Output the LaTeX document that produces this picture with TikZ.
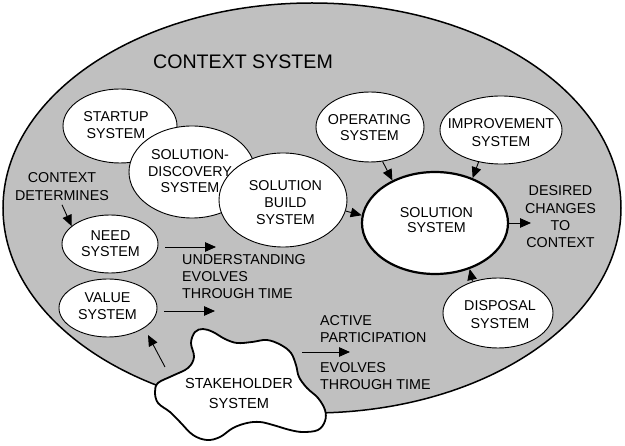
\documentclass[tikz,border=0pt]{standalone}
\usepackage{fontspec}
\setmainfont{Liberation Sans}
\usetikzlibrary{shapes.geometric,arrows.meta}
\definecolor{ctxgray}{RGB}{192,192,192}
\begin{document}
\begin{tikzpicture}[x=1pt,y=-1pt,
  ctxell/.style={ellipse,draw=black,line width=1.5pt,fill=ctxgray,inner sep=0pt},
  sysell/.style={ellipse,draw=black,line width=0.9pt,fill=white,inner sep=0pt},
  mainell/.style={ellipse,draw=black,line width=2.2pt,fill=white,inner sep=0pt},
  txt/.style={inner sep=0pt,align=center,font=\fontsize{14.3}{17}\selectfont},
  ltxt/.style={txt,align=left,anchor=west},
  arr/.style={-{Triangle[length=11pt,width=9.5pt]},line width=0.9pt},
  cloudline/.style={line width=1.8pt,draw=black,fill=white},
]
\useasboundingbox (0,0) rectangle (625,446);
% context
\node[ctxell,minimum width=618pt,minimum height=410pt] (ctx) at (312,208) {};
\node[inner sep=0pt,font=\fontsize{19.6}{22}\selectfont] (ctxT) at (243,61.5) {CONTEXT SYSTEM};
% systems
\node[sysell,minimum width=114pt,minimum height=74pt] (startup) at (120,126) {};
\node[txt] (startupT) at (116,125) {STARTUP\\SYSTEM};
\node[sysell,minimum width=126pt,minimum height=92pt] (disc) at (192,172) {};
\node[txt,font=\fontsize{14.3}{16.5}\selectfont] (discT) at (190,171.5) {SOLUTION-\\DISCOVERY\\SYSTEM};
\node[sysell,minimum width=128pt,minimum height=94pt] (build) at (283,200) {};
\node[txt] (buildT) at (285.5,202.5) {SOLUTION\\BUILD\\SYSTEM};
\node[sysell,minimum width=96pt,minimum height=58pt] (need) at (110,244) {};
\node[txt,font=\fontsize{14.3}{15.5}\selectfont] (needT) at (110.5,243.5) {NEED\\SYSTEM};
\node[sysell,minimum width=98pt,minimum height=58pt] (value) at (108,308) {};
\node[txt] (valueT) at (107.5,306) {VALUE\\SYSTEM};
\node[sysell,minimum width=108pt,minimum height=70pt] (oper) at (370,127) {};
\node[txt,font=\fontsize{14.3}{16}\selectfont] (operT) at (369.5,128) {OPERATING\\SYSTEM};
\node[sysell,minimum width=122pt,minimum height=68pt] (impr) at (501,130) {};
\node[txt,font=\fontsize{14.3}{18}\selectfont] (imprT) at (501,133) {IMPROVEMENT\\SYSTEM};
\node[mainell,minimum width=146pt,minimum height=102pt] (sol) at (435,223) {};
\node[txt,font=\fontsize{14.3}{15}\selectfont] (solT) at (436.5,220) {SOLUTION\\SYSTEM};
\node[sysell,minimum width=110pt,minimum height=70pt] (disp) at (498,313) {};
\node[txt,font=\fontsize{14.3}{18}\selectfont] (dispT) at (500,314.5) {DISPOSAL\\SYSTEM};
% stakeholder cloud
\draw[cloudline] plot[smooth cycle,tension=0.6] coordinates {
(155,392) (158,383) (172,376) (188,368) (194,357) (191,343) (195,332) (203,329)
(213,332) (225,339) (237,343) (252,342) (267,340) (281,345) (291,353) (296,365)
(299,377) (307,388) (318,398) (325,410) (325,421) (318,430) (303,432) (290,430)
(273,425) (260,422) (247,423) (233,428) (220,437) (207,440) (193,435) (180,422)
(170,412) (158,403)};
\node[txt,font=\fontsize{14.6}{20}\selectfont] (stake) at (239,393.5) {STAKEHOLDER\\SYSTEM};
% labels
\node[txt,font=\fontsize{14.3}{18}\selectfont] (cdet) at (62,186.5) {CONTEXT\\DETERMINES};
\node[ltxt] (und) at (182,276.7) {UNDERSTANDING\\EVOLVES\\THROUGH TIME};
\node[ltxt] (act) at (320,329) {ACTIVE\\PARTICIPATION};
\node[ltxt] (evo) at (320,376) {EVOLVES\\THROUGH TIME};
\node[txt,font=\fontsize{14.3}{17.3}\selectfont] (des) at (560.5,217) {DESIRED\\CHANGES\\TO\\CONTEXT};
% free ends
\coordinate (desin) at (531,223);
\coordinate (needout) at (216,247);
\coordinate (valout) at (215,311);
\coordinate (stkA) at (165,367);
\coordinate (stkB) at (148,335);
\coordinate (actA) at (302,352);
\coordinate (actB) at (350,352);
% connectors
\draw[arr] ([yshift=-4pt]cdet.south) -- (need.155);
\draw[arr] ([xshift=7pt,yshift=-3pt]need.east) -- (needout);
\draw[arr] ([xshift=7pt,yshift=-3pt]value.east) -- (valout);
\draw[arr] (stkA) -- (stkB);
\draw[arr] (actA) -- (actB);
\draw[arr] (oper.-70) -- (sol.135);
\draw[arr] (impr.-125) -- (sol.50);
\draw[arr] (build.-10) -- (sol.174);
\draw[arr] (sol.east) -- (desin);
\draw[arr] (disp.129) -- (sol.-53);
\end{tikzpicture}
\end{document}
